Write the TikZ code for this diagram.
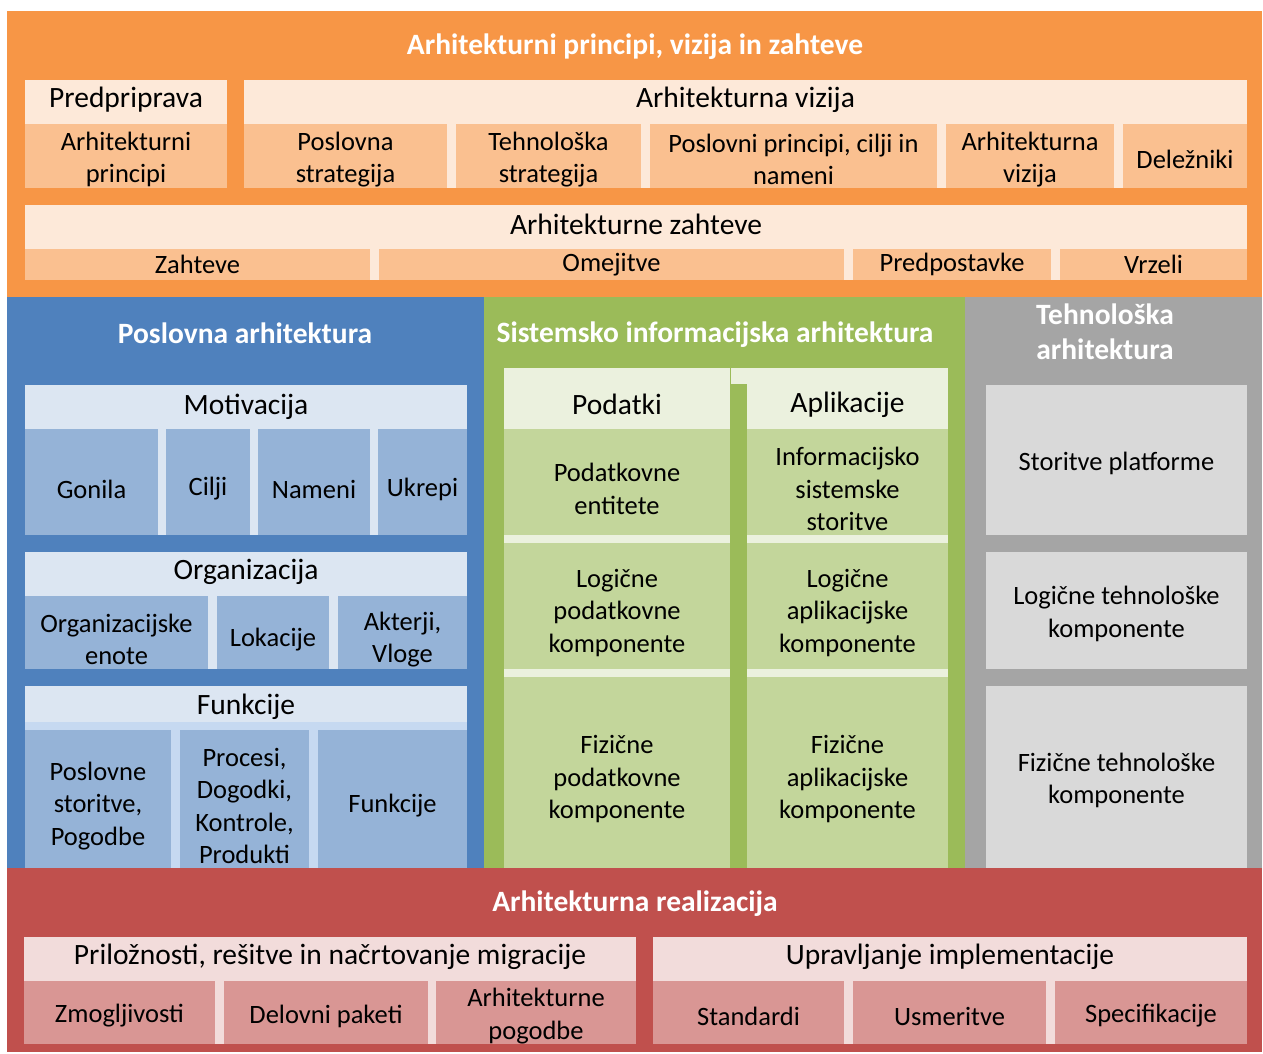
\documentclass[tikz,border=0pt]{standalone}
\usepackage{fontspec}
\setmainfont{Carlito}
\usepackage{tikz}

\definecolor{orgBand}{HTML}{F79646}
\definecolor{orgLight}{HTML}{FDE9D9}
\definecolor{orgSub}{HTML}{FAC090}
\definecolor{bluBand}{HTML}{4F81BD}
\definecolor{bluLight}{HTML}{DCE6F2}
\definecolor{bluPale}{HTML}{C6D9F1}
\definecolor{bluSub}{HTML}{95B3D7}
\definecolor{grnBand}{HTML}{9BBB59}
\definecolor{grnLight}{HTML}{EBF1DE}
\definecolor{grnSub}{HTML}{C3D69B}
\definecolor{gryBand}{HTML}{A5A5A5}
\definecolor{grySub}{HTML}{D9D9D9}
\definecolor{redBand}{HTML}{C0504D}
\definecolor{redLight}{HTML}{F2DCDB}
\definecolor{redSub}{HTML}{D99694}

\newcommand{\boxfont}{\fontsize{26.5}{32.5}\selectfont}
\newcommand{\hdrfont}{\fontsize{29.5}{36}\selectfont}
\newcommand{\ttlfont}{\fontsize{29.5}{35}\selectfont\bfseries}

\begin{document}
\begin{tikzpicture}[x=1pt,y=-1pt,
  cell/.style={anchor=north west,inner sep=0pt,outer sep=0pt,align=center,font=\boxfont},
  txt/.style={inner sep=0pt,align=center,font=\boxfont},
  sub/.style={cell,label={[txt,yshift=-3.5pt]center:{#1}}},
  lowsub/.style={cell,label={[txt,yshift=-7pt]center:{#1}}},
  hdr/.style={cell,font=\hdrfont},
  ttl/.style={text=white,align=center,font=\ttlfont}]

\useasboundingbox (0,0) rectangle (1263,1054);
\fill[white] (0,0) rectangle (1263,1054);

% bands
\node[cell,fill=orgBand,minimum width=1255,minimum height=286] (principi) at (7,11) {};
\node[cell,fill=bluBand,minimum width=477,minimum height=571] (poslovna) at (7,297) {};
\node[cell,fill=grnBand,minimum width=481,minimum height=571] (sistemska) at (484,297) {};
\node[cell,fill=gryBand,minimum width=297,minimum height=571] (tehnoloska) at (965,297) {};
\node[cell,fill=redBand,minimum width=1255,minimum height=184] (realizacija) at (7,868) {};

\node[ttl] (tPrincipi) at (635,47) {Arhitekturni principi, vizija in zahteve};
\node[ttl] (tPoslovna) at (245,333) {Poslovna arhitektura};
\node[ttl] (tSistemska) at (715,335) {Sistemsko informacijska arhitektura};
\node[ttl] (tTehnoloska) at (1105,332) {Tehnološka\\arhitektura};
\node[ttl] (tRealizacija) at (635,904) {Arhitekturna realizacija};

% principi, vizija in zahteve
\node[cell,fill=orgLight,minimum width=202,minimum height=108] (predpriprava) at (25,80) {};
\node[hdr,minimum width=202,minimum height=44] (hPredpriprava) at (25,78) {Predpriprava};
\node[sub={Arhitekturni\\principi},fill=orgSub,minimum width=202,minimum height=64] (arhPrincipi) at (25,124) {};

\node[cell,fill=orgLight,minimum width=1003,minimum height=108] (vizija) at (244,80) {};
\node[hdr,minimum width=1003,minimum height=44] (hVizija) at (244,78) {Arhitekturna vizija};
\node[sub={Poslovna\\strategija},fill=orgSub,minimum width=203,minimum height=64] (posStrategija) at (244,124) {};
\node[sub={Tehnološka\\strategija},fill=orgSub,minimum width=185,minimum height=64] (tehStrategija) at (456,124) {};
\node[sub={Poslovni principi, cilji in\\nameni},fill=orgSub,minimum width=287,minimum height=64] (posPrincipi) at (650,124) {};
\node[sub={Arhitekturna\\vizija},fill=orgSub,minimum width=168,minimum height=64] (arhVizija) at (946,124) {};
\node[sub={Deležniki},fill=orgSub,minimum width=124,minimum height=64] (delezniki) at (1123,124) {};

\node[cell,fill=orgLight,minimum width=1222,minimum height=75] (zahteve) at (25,205) {};
\node[hdr,minimum width=1222,minimum height=44] (hZahteve) at (25,202) {Arhitekturne zahteve};
\node[cell,fill=orgSub,minimum width=345,minimum height=31] (zahteveS) at (25,249) {Zahteve};
\node[cell,fill=orgSub,minimum width=465,minimum height=31] (omejitve) at (379,249) {Omejitve};
\node[cell,fill=orgSub,minimum width=198,minimum height=31] (predpostavke) at (853,249) {Predpostavke};
\node[cell,fill=orgSub,minimum width=187,minimum height=31] (vrzeli) at (1060,249) {Vrzeli};

% poslovna arhitektura
\node[cell,fill=bluLight,minimum width=442,minimum height=150] (motivacija) at (25,385) {};
\node[hdr,minimum width=442,minimum height=44] (hMotivacija) at (25,385) {Motivacija};
\node[lowsub={Gonila},fill=bluSub,minimum width=133,minimum height=106] (gonila) at (25,429) {};
\node[lowsub={Cilji},fill=bluSub,minimum width=84,minimum height=106] (cilji) at (166,429) {};
\node[lowsub={Nameni},fill=bluSub,minimum width=112,minimum height=106] (nameni) at (258,429) {};
\node[lowsub={Ukrepi},fill=bluSub,minimum width=89,minimum height=106] (ukrepi) at (378,429) {};

\node[cell,fill=bluLight,minimum width=442,minimum height=117] (organizacija) at (25,552) {};
\node[hdr,minimum width=442,minimum height=44] (hOrganizacija) at (25,550) {Organizacija};
\node[lowsub={Organizacijske\\enote},fill=bluSub,minimum width=183,minimum height=73] (enote) at (25,596) {};
\node[lowsub={Lokacije},fill=bluSub,minimum width=112,minimum height=73] (lokacije) at (217,596) {};
\node[lowsub={Akterji,\\Vloge},fill=bluSub,minimum width=129,minimum height=73] (akterji) at (338,596) {};

\node[cell,fill=bluPale,minimum width=442,minimum height=182] (funkcije) at (25,686) {};
\node[cell,fill=bluLight,minimum width=442,minimum height=36] (hFunkcijeBg) at (25,686) {};
\node[hdr,minimum width=442,minimum height=36] (hFunkcije) at (25,689) {Funkcije};
\node[lowsub={Poslovne\\storitve,\\Pogodbe},fill=bluSub,minimum width=146,minimum height=138] (storitve) at (25,730) {};
\node[lowsub={Procesi,\\Dogodki,\\Kontrole,\\Produkti},fill=bluSub,minimum width=129,minimum height=138] (procesi) at (180,730) {};
\node[lowsub={Funkcije},fill=bluSub,minimum width=149,minimum height=138] (funkcijeS) at (318,730) {};

% sistemsko informacijska arhitektura
\node[cell,fill=grnLight,minimum width=226,minimum height=500] (podatki) at (504,368) {};
\node[cell,fill=grnLight,minimum width=217,minimum height=500] (aplikacije) at (731,368) {};
\fill[grnBand] (731,384) rectangle (747,868);
\node[hdr,minimum width=226,minimum height=61] (hPodatki) at (504,374) {Podatki};
\node[hdr,minimum width=201,minimum height=61] (hAplikacije) at (747,374) {Aplikacije};
\node[lowsub={Podatkovne\\entitete},fill=grnSub,minimum width=226,minimum height=106] (entitete) at (504,429) {};
\node[lowsub={Logične\\podatkovne\\komponente},fill=grnSub,minimum width=226,minimum height=126] (logPodatki) at (504,543) {};
\node[lowsub={Fizične\\podatkovne\\komponente},fill=grnSub,minimum width=226,minimum height=191] (fizPodatki) at (504,677) {};
\node[lowsub={Informacijsko\\sistemske\\storitve},fill=grnSub,minimum width=201,minimum height=106] (isStoritve) at (747,429) {};
\node[lowsub={Logične\\aplikacijske\\komponente},fill=grnSub,minimum width=201,minimum height=126] (logAplikacije) at (747,543) {};
\node[lowsub={Fizične\\aplikacijske\\komponente},fill=grnSub,minimum width=201,minimum height=191] (fizAplikacije) at (747,677) {};

% tehnoloska arhitektura
\node[sub={Storitve platforme},fill=grySub,minimum width=261,minimum height=150] (platforme) at (986,385) {};
\node[sub={Logične tehnološke\\komponente},fill=grySub,minimum width=261,minimum height=117] (logTehno) at (986,552) {};
\node[sub={Fizične tehnološke\\komponente},fill=grySub,minimum width=261,minimum height=182] (fizTehno) at (986,686) {};

% arhitekturna realizacija
\node[cell,fill=redLight,minimum width=612,minimum height=107] (priloznosti) at (24,937) {};
\node[hdr,minimum width=612,minimum height=44] (hPriloznosti) at (24,935) {Priložnosti, rešitve in načrtovanje migracije};
\node[sub={Zmogljivosti},fill=redSub,minimum width=191,minimum height=63] (zmogljivosti) at (24,981) {};
\node[sub={Delovni paketi},fill=redSub,minimum width=204,minimum height=63] (paketi) at (224,981) {};
\node[sub={Arhitekturne\\pogodbe},fill=redSub,minimum width=200,minimum height=63] (pogodbe) at (436,981) {};

\node[cell,fill=redLight,minimum width=594,minimum height=107] (upravljanje) at (653,937) {};
\node[hdr,minimum width=594,minimum height=44] (hUpravljanje) at (653,935) {Upravljanje implementacije};
\node[sub={Standardi},fill=redSub,minimum width=191,minimum height=63] (standardi) at (653,981) {};
\node[sub={Usmeritve},fill=redSub,minimum width=193,minimum height=63] (usmeritve) at (853,981) {};
\node[sub={Specifikacije},fill=redSub,minimum width=192,minimum height=63] (specifikacije) at (1055,981) {};
\end{tikzpicture}
\end{document}
